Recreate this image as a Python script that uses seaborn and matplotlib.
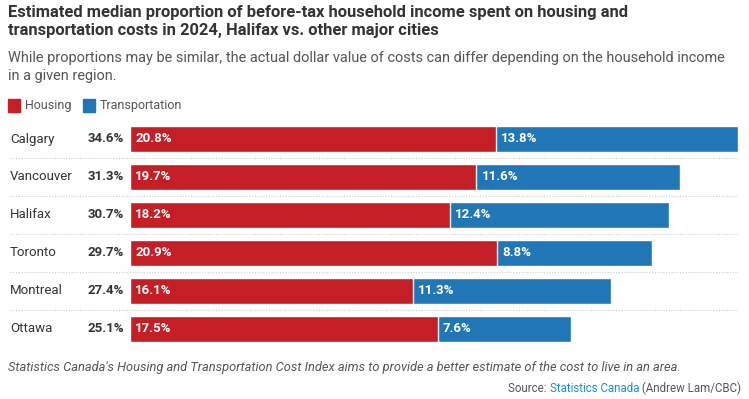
import matplotlib
matplotlib.use("Agg")
import matplotlib.pyplot as plt
from matplotlib.patches import Rectangle
import seaborn as sns
import pandas as pd

# data
cities = ["Calgary", "Vancouver", "Halifax", "Toronto", "Montreal", "Ottawa"]
housing = [20.8, 19.7, 18.2, 20.9, 16.1, 17.5]
transport = [13.8, 11.6, 12.4, 8.8, 11.3, 7.6]
totals = [34.6, 31.3, 30.7, 29.7, 27.4, 25.1]

RED = "#c41f26"
BLUE = "#2177b5"
DARK = "#333333"
GREY = "#555555"

sns.set_theme(style="white")
plt.rcParams["font.family"] = ["Roboto", "DejaVu Sans"]

df = pd.DataFrame({"city": cities, "housing": housing,
                   "transport": transport, "total": totals})

W, H = 749, 399
fig = plt.figure(figsize=(W / 100, H / 100), dpi=100)


def fy(py):
    # pixel row from top -> figure fraction
    return 1 - py / H


# axes in pixel terms: x 130..738, y 120..348
ax = fig.add_axes([130 / W, fy(348), 608 / W, 228 / H])

# full bar in blue, housing part over it in red
sns.barplot(data=df, x="total", y="city", color=BLUE, width=0.71,
            saturation=1, ax=ax, orient="h")
sns.barplot(data=df, x="housing", y="city", color=RED, width=0.71,
            saturation=1, ax=ax, orient="h")

ax.set_xlim(0, max(totals))
ax.set_ylim(len(cities) - 0.5, -0.5)
ax.set_xlabel("")
ax.set_ylabel("")
ax.set_xticks([])
ax.set_yticks([])
for s in ax.spines.values():
    s.set_visible(False)
ax.patch.set_alpha(0)

trans = ax.get_yaxis_transform()
for i, c in enumerate(cities):
    ax.text(-120 / 608, i, c, transform=trans, ha="left", va="center",
            fontsize=9.5, color=DARK, clip_on=False)
    ax.text(-6 / 608, i, f"{totals[i]:.1f}%", transform=trans, ha="right",
            va="center", fontsize=9.5, color=DARK, fontweight="bold",
            clip_on=False)
    ax.text(0.3, i, f"{housing[i]:.1f}%", ha="left", va="center",
            fontsize=9.5, color="white", fontweight="bold")
    ax.text(housing[i] + 0.3, i, f"{transport[i]:.1f}%", ha="left",
            va="center", fontsize=9.5, color="white", fontweight="bold")

for k in range(len(cities) - 1):
    ax.plot([-120 / 608, 1.0], [k + 0.5, k + 0.5], transform=trans,
            color="#cccccc", lw=0.8, ls=(0, (1, 1.5)), clip_on=False)

# header
title = ["Estimated median proportion of before-tax household income spent on housing and",
         "transportation costs in 2024, Halifax vs. other major cities"]
for py, line in zip([13, 31], title):
    fig.text(8 / W, fy(py), line, ha="left", va="center", fontsize=11.9,
             fontweight="bold", color=DARK)
sub = ["While proportions may be similar, the actual dollar value of costs can differ depending on the household income",
       "in a given region."]
for py, line in zip([58, 76], sub):
    fig.text(8 / W, fy(py), line, ha="left", va="center", fontsize=10.45,
             color=GREY)

# legend
for x0, col, lab in [(8, RED, "Housing"), (83, BLUE, "Transportation")]:
    fig.patches.append(Rectangle((x0 / W, fy(112)), 12 / W, 13 / H,
                                 transform=fig.transFigure, color=col))
    fig.text((x0 + 17) / W, fy(105.5), lab, ha="left", va="center",
             fontsize=9, color=GREY)

# footer
fig.text(8 / W, fy(368), "Statistics Canada's Housing and Transportation Cost Index aims to provide a better estimate of the cost to live in an area.",
         ha="left", va="center", fontsize=9.3, color=GREY, style="italic")
t3 = fig.text(741 / W, fy(388), " (Andrew Lam/CBC)", ha="right",
              va="center", fontsize=8.3, color=GREY)
fig.canvas.draw()
bb = t3.get_window_extent()
t2 = fig.text(bb.x0 / W, fy(388), "Statistics Canada", ha="right",
              va="center", fontsize=8.3, color="#1a8fd0")
bb2 = t2.get_window_extent()
fig.text(bb2.x0 / W, fy(388), "Source: ", ha="right", va="center",
         fontsize=8.3, color=GREY)

fig.savefig("out.png", dpi=100)
